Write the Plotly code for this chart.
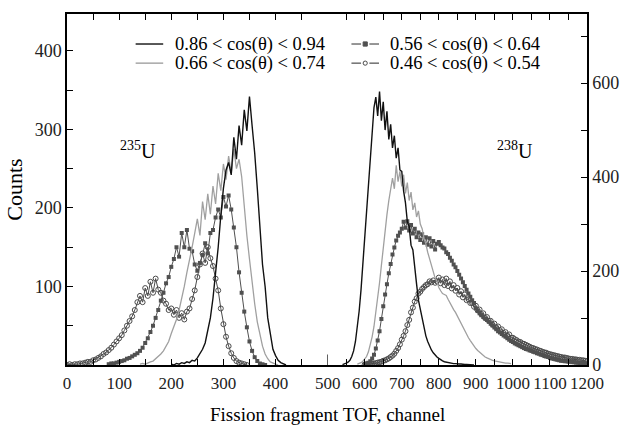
import plotly.graph_objects as go

STEP = 5

# 235U side (left axis), each list starts at its own channel
black_l_start = 200
black_l = [1, 0, 2, 1, 3, 2, 4, 3, 6, 5, 9, 14, 20, 28, 42, 60, 85, 115, 150, 190,
           225, 248, 258, 242, 290, 262, 305, 280, 325, 298, 342, 305, 270, 225, 182, 128, 100, 60, 40, 20,
           12, 6, 3, 2, 0]
gray_l_start = 140
gray_l = [1, 2, 1, 3, 4, 5, 8, 10, 14, 18, 25, 30,
          40, 48, 58, 70, 84, 100, 118, 132, 150, 168, 186, 165, 208, 185, 218, 192, 228, 205, 244, 222,
          256, 236, 266, 244, 275, 250, 262, 240, 200, 165, 135, 105, 78, 55, 38, 24, 14, 8, 4, 2,
          1, 0]
sq_l_start = 80
sq_l = [1, 2, 2, 3, 4, 5, 6, 8, 9, 11, 13, 15, 18, 22, 28, 34, 42, 50, 60, 70,
        82, 92, 104, 112, 125, 135, 150, 138, 168, 150, 172, 148, 145, 128, 120, 130, 140, 155, 142, 168,
        172, 188, 198, 188, 214, 202, 216, 198, 175, 150, 118, 92, 68, 48, 30, 18, 10, 5, 2, 1,
        0]
circ_l_start = 0
circ_l = [0, 1, 0, 1, 1, 2, 2, 3, 4, 4, 6, 7, 9, 11, 14, 16, 19, 22, 26, 30,
          34, 38, 44, 50, 56, 62, 70, 80, 88, 80, 98, 88, 106, 92, 110, 96, 92, 82, 78, 70,
          72, 64, 70, 60, 66, 58, 68, 72, 84, 95, 112, 128, 142, 130, 150, 136, 126, 110, 95, 72,
          52, 36, 24, 15, 9, 5, 3, 2, 1, 0]

# 238U side (right axis)
black_r_start = 540
black_r = [1, 2, 4, 6, 10, 18, 30, 50, 78, 115, 160, 215,
           270, 335, 385, 455, 500, 548, 570, 530, 582, 520, 560, 500, 540, 480, 512, 462, 488, 440, 462, 415,
           412, 370, 345, 305, 295, 255, 245, 200, 172, 138, 118, 95, 78, 62, 50, 40, 32, 26, 21, 17,
           14, 11, 9, 7, 6, 5, 4, 4, 3, 3, 2, 2, 2, 1, 1, 1, 1, 0, 0, 0]
gray_r_start = 580
gray_r = [2, 3, 5, 8,
          12, 18, 28, 42, 60, 82, 110, 140, 175, 212, 250, 290, 320, 350, 372, 398, 375, 425, 390, 412,
          380, 405, 365, 388, 350, 368, 330, 345, 315, 328, 300, 290, 270, 258, 240, 225, 210, 200, 185, 178,
          165, 158, 152, 150, 148, 140, 132, 125, 118, 112, 104, 96, 88, 80, 72, 64, 58, 52, 46, 40,
          35, 31, 27, 23, 20, 17, 15, 13, 11, 10, 9, 8, 7, 6, 5, 5, 4, 4, 3, 3]
sq_r_start = 600
sq_r = [2, 3, 5, 8, 14, 22, 35, 52, 72, 98, 125, 150, 172, 195, 215, 235, 250, 265, 275, 282,
        290, 305, 292, 306, 286, 298, 280, 290, 272, 282, 266, 278, 260, 272, 256, 270, 252, 264, 246, 258,
        262, 255, 250, 248, 240, 236, 228, 222, 214, 208, 200, 192, 184, 176, 168, 160, 152, 145, 138, 132,
        120, 115, 110, 106, 102, 99, 96, 92, 88, 84, 80, 76, 72, 69, 66, 63, 60, 57, 54, 51,
        49, 46, 44, 42, 40, 38, 36, 34, 33, 31, 30, 28, 27, 25, 24, 22, 21, 19, 18, 17,
        15, 14, 13, 12, 11, 10, 9, 9, 8, 8, 7, 7, 6, 6, 5, 5, 4, 4, 4, 3,
        3]
circ_r_start = 600
circ_r = [1, 1, 2, 2, 3, 3, 4, 5, 6, 7, 9, 10, 12, 14, 17, 20, 24, 30, 36, 44,
          54, 62, 72, 85, 96, 112, 122, 135, 142, 152, 156, 162, 166, 170, 172, 178, 176, 180, 175, 178,
          186, 174, 182, 170, 184, 168, 178, 163, 170, 158, 164, 150, 157, 144, 150, 138, 140, 132, 132, 124,
          126, 116, 118, 108, 110, 100, 102, 94, 94, 86, 88, 80, 82, 74, 76, 68, 70, 63, 65, 58,
          58, 55, 53, 50, 49, 46, 45, 43, 41, 39, 37, 36, 34, 33, 31, 30, 28, 27, 26, 24,
          23, 22, 21, 20, 19, 18, 17, 16, 16, 15, 14, 13, 13, 12, 12, 11, 11, 10, 10, 9,
          8]

labels = ["0.86 < cos(θ) < 0.94", "0.66 < cos(θ) < 0.74",
          "0.56 < cos(θ) < 0.64", "0.46 < cos(θ) < 0.54"]
colors = ["#111111", "#a0a0a0", "#505050", "#4a4a4a"]

FONT = "Liberation Serif"


def chans(start, vals):
    return [start + STEP * i for i in range(len(vals))]


styles = [
    dict(mode="lines", line=dict(color=colors[0], width=1.4)),
    dict(mode="lines", line=dict(color=colors[1], width=1.3)),
    dict(mode="lines+markers", line=dict(color=colors[2], width=1),
         marker=dict(symbol="square", size=4, color=colors[2])),
    dict(mode="lines+markers", line=dict(color=colors[3], width=1),
         marker=dict(symbol="circle-open", size=5, color=colors[3], line=dict(width=1))),
]
left_sets = [(black_l_start, black_l), (gray_l_start, gray_l), (sq_l_start, sq_l), (circ_l_start, circ_l)]
right_sets = [(black_r_start, black_r), (gray_r_start, gray_r), (sq_r_start, sq_r), (circ_r_start, circ_r)]

fig = go.Figure()
# broader curves first so the black one sits on top
for i in [3, 2, 1, 0]:
    s, v = left_sets[i]
    fig.add_trace(go.Scatter(x=chans(s, v), y=v, name=labels[i], showlegend=False,
                             xaxis="x", yaxis="y", **styles[i]))
    s, v = right_sets[i]
    fig.add_trace(go.Scatter(x=chans(s, v), y=v, name=labels[i], showlegend=False,
                             xaxis="x2", yaxis="y2", **styles[i]))

axis_common = dict(showline=True, linecolor="black", linewidth=1.5, ticks="inside", ticklen=6,
                   tickcolor="black", showgrid=False, zeroline=False, tickangle=0)
yfont = dict(family=FONT, size=18, color="#222222")
xfont = dict(family=FONT, size=17, color="#222222")


def minor(vals):
    return dict(tickmode="array", tickvals=vals, ticks="inside", ticklen=6, tickcolor="black")


split = 0.5013
fig.update_layout(
    width=631, height=435,
    margin=dict(l=67, r=34, t=14, b=70),
    paper_bgcolor="white", plot_bgcolor="white",
    font=dict(family=FONT, color="black"),
    showlegend=False,
    xaxis=dict(domain=[0, split], range=[0, 500], anchor="y", mirror="ticks",
               tickmode="array", tickvals=[0, 100, 200, 300, 400, 500], ticklabelstandoff=2,
               minor=minor([50, 150, 250, 350, 450]), tickfont=xfont, **axis_common),
    xaxis2=dict(domain=[split, 1], range=[500, 1200], anchor="y2", mirror="ticks",
                tickmode="array", tickvals=[600, 700, 800, 900, 1000, 1100, 1200], ticklabelstandoff=2,
                minor=minor([550, 650, 750, 850, 950, 1050, 1150]), tickfont=xfont, **axis_common),
    yaxis=dict(range=[0, 447], anchor="x", tickmode="array", tickvals=[100, 200, 300, 400],
               minor=minor([50, 150, 250, 350]), tickfont=yfont,
               title=dict(text="Counts", font=dict(family=FONT, size=22), standoff=6),
               **axis_common),
    yaxis2=dict(range=[0, 747], anchor="x2", overlaying="y", side="right",
                tickmode="array", tickvals=[0, 200, 400, 600],
                minor=minor([100, 300, 500, 700]), tickfont=yfont, **axis_common),
)

# legend drawn by hand to get the tight row spacing of the original
row_y = [0.9145, 0.860, 0.9145, 0.860]
col_x0 = [0.132, 0.132, 0.547, 0.547]
sample_w = 0.053
for i in range(4):
    y = row_y[i]
    x0 = col_x0[i]
    if i < 2:
        fig.add_shape(type="line", xref="paper", yref="paper", x0=x0, x1=x0 + sample_w, y0=y, y1=y,
                      line=dict(color=colors[i], width=1.4))
    else:
        xm = x0 + sample_w / 2
        fig.add_shape(type="line", xref="paper", yref="paper", x0=x0, x1=xm - 0.008, y0=y, y1=y,
                      line=dict(color=colors[i], width=1.2))
        fig.add_shape(type="line", xref="paper", yref="paper", x0=xm + 0.008, x1=x0 + sample_w, y0=y, y1=y,
                      line=dict(color=colors[i], width=1.2))
        fig.add_shape(type="rect" if i == 2 else "circle", xref="paper", yref="paper",
                      x0=xm - 0.004, x1=xm + 0.004, y0=y - 0.006, y1=y + 0.006,
                      line=dict(color=colors[i], width=1),
                      fillcolor=colors[i] if i == 2 else "white")
    fig.add_annotation(x=x0 + sample_w + 0.018, y=y, xref="paper", yref="paper", text=labels[i],
                       showarrow=False, xanchor="left", yanchor="middle",
                       font=dict(family=FONT, size=18.5, color="black"))

fig.add_annotation(x=137, y=274, xref="x", yref="y", text="<sup>235</sup>U", showarrow=False,
                   font=dict(family=FONT, size=20, color="black"))
fig.add_annotation(x=1005, y=457, xref="x2", yref="y2", text="<sup>238</sup>U", showarrow=False,
                   font=dict(family=FONT, size=20, color="black"))
fig.add_annotation(x=0.5, y=-0.142, xref="paper", yref="paper", text="Fission fragment TOF, channel",
                   showarrow=False, yanchor="middle", font=dict(family=FONT, size=19, color="black"))
# longer tick marking the scale break
fig.add_shape(type="line", xref="x", yref="paper", x0=500, x1=500, y0=0, y1=0.03,
              line=dict(color="black", width=1.2))

# drop the default page margin so the 631x435 figure fills the window without scrollbars
fig.write_html("out.html", config={"displayModeBar": False},
               post_script="document.body.style.margin='0';")
